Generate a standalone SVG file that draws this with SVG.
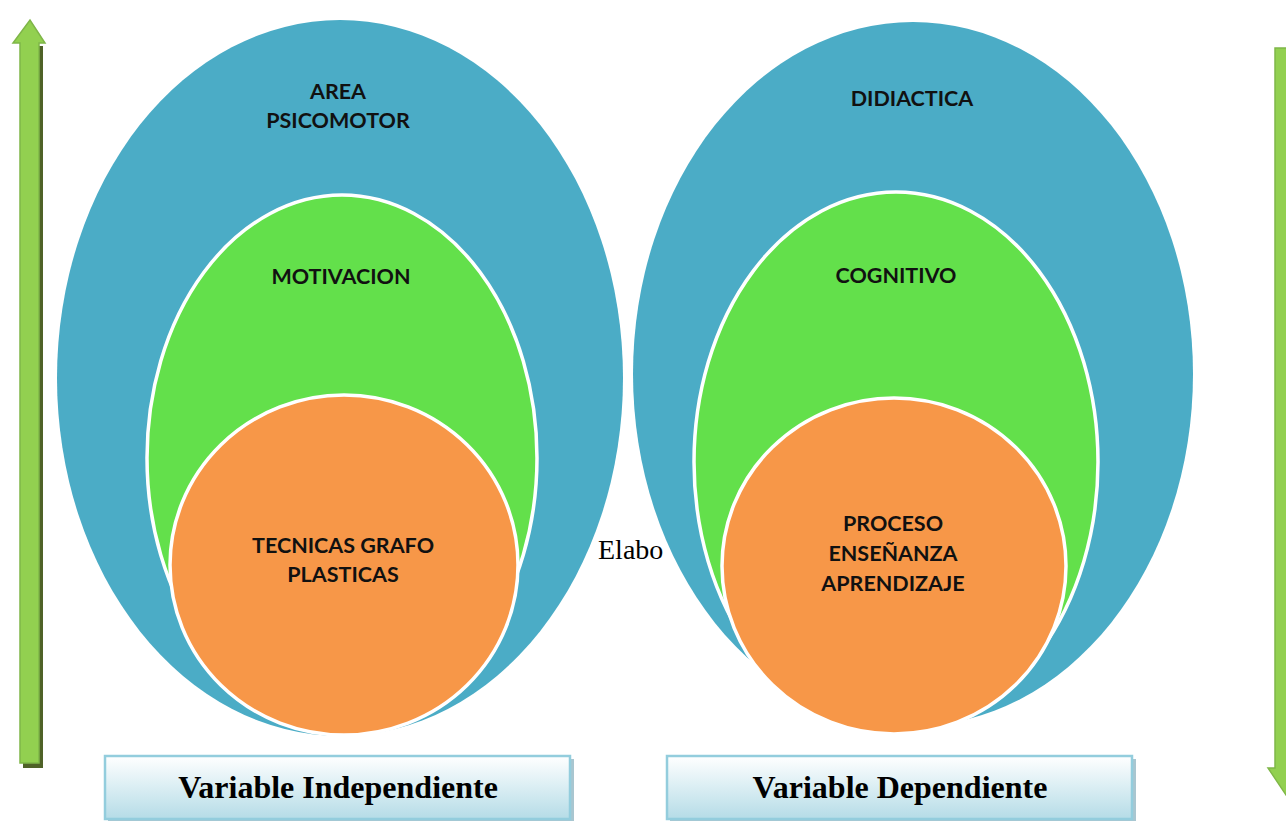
<svg xmlns="http://www.w3.org/2000/svg" width="1286" height="821" viewBox="0 0 1286 821">
<defs>
<linearGradient id="boxg" x1="0" y1="0" x2="0" y2="1">
<stop offset="0" stop-color="#ffffff"/>
<stop offset="1" stop-color="#b5dce7"/>
</linearGradient>
<style>
.blue{fill:#4bacc6;}
.green{fill:#63e04b;stroke:#ffffff;stroke-width:3.5;}
.orange{fill:#f79748;stroke:#ffffff;stroke-width:3.5;}
.lbl{font-family:Lato,"Open Sans","Liberation Sans",sans-serif;font-weight:bold;font-size:21.5px;fill:#111;text-anchor:middle;}
.box{fill:url(#boxg);stroke:#93cddd;stroke-width:2.5;}
.boxsh{fill:#a9c6d0;}
.vt{font-family:"Liberation Serif","Times New Roman",serif;font-weight:bold;font-size:32px;fill:#000;text-anchor:middle;}
.arr{fill:#92d050;stroke:#7fb648;stroke-width:1.5;}
.arrsh{fill:#4f6228;}
</style>
</defs>
<rect width="1286" height="821" fill="#ffffff"/>

<g id="arrow-up">
<rect class="arrsh" x="23" y="46" width="20" height="722"/>
<polygon class="arr" points="20,43 20,763 39,763 39,43 45,43 30,20 13,43"/>
</g>
<g id="arrow-down">
<polygon class="arr" points="1275,48 1275,768 1268,768 1286,795 1304,768 1297,768 1297,48"/>
</g>

<text x="598" y="559" font-family="Liberation Serif,'Times New Roman',serif" font-size="28" fill="#000">Elabo</text>

<g id="left-venn">
<ellipse class="blue" cx="340" cy="378" rx="283" ry="358"/>
<ellipse class="green" cx="342" cy="458" rx="195" ry="263"/>
<ellipse class="orange" cx="344" cy="565" rx="174" ry="170"/>
<text class="lbl" x="338" y="99">AREA</text>
<text class="lbl" x="338" y="128">PSICOMOTOR</text>
<text class="lbl" x="341" y="284">MOTIVACION</text>
<text class="lbl" x="343" y="553">TECNICAS GRAFO</text>
<text class="lbl" x="343" y="582">PLASTICAS</text>
</g>

<g id="right-venn">
<ellipse class="blue" cx="913" cy="374" rx="280" ry="352"/>
<ellipse class="green" cx="896" cy="462" rx="202" ry="270"/>
<ellipse class="orange" cx="894" cy="566" rx="172" ry="168"/>
<text class="lbl" x="912" y="106">DIDIACTICA</text>
<text class="lbl" x="896" y="283">COGNITIVO</text>
<text class="lbl" x="893" y="531">PROCESO</text>
<text class="lbl" x="893" y="561">ENSEÑANZA</text>
<text class="lbl" x="893" y="591">APRENDIZAJE</text>
</g>

<g id="box-independiente">
<rect class="boxsh" x="108" y="759" width="466" height="62"/>
<rect class="box" x="105" y="756" width="465" height="63"/>
<text class="vt" x="338" y="798">Variable Independiente</text>
</g>
<g id="box-dependiente">
<rect class="boxsh" x="670" y="759" width="466" height="62"/>
<rect class="box" x="667" y="756" width="465" height="63"/>
<text class="vt" x="900" y="798">Variable Dependiente</text>
</g>
</svg>
